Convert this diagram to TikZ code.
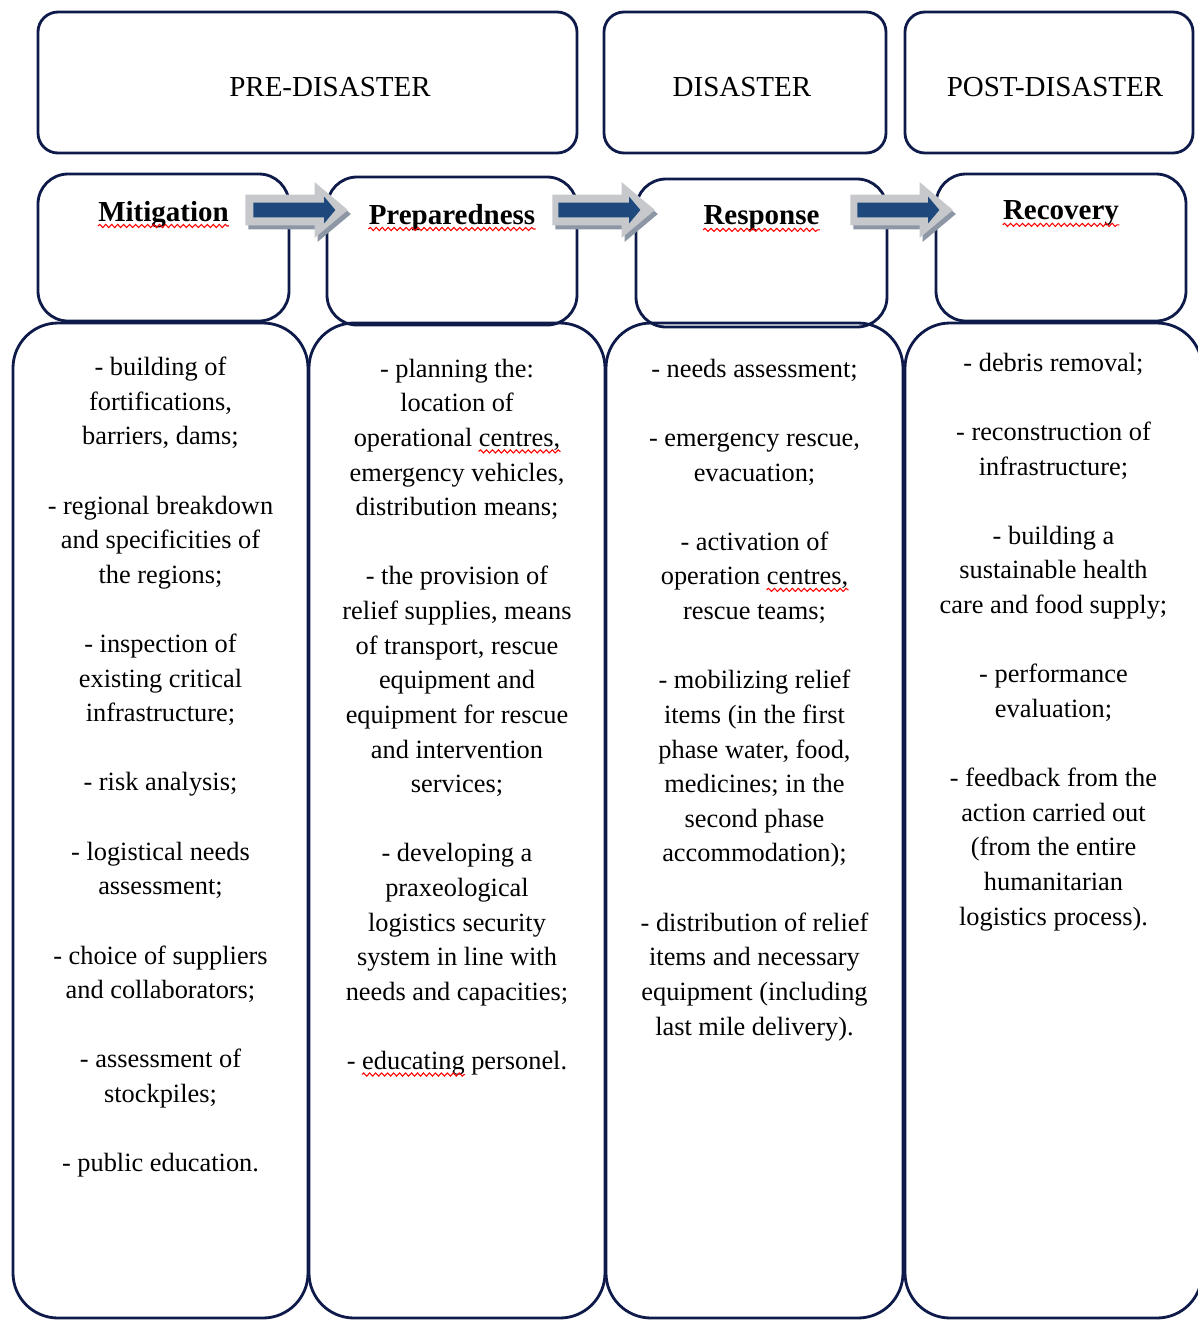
\documentclass[tikz,border=0pt]{standalone}
\usepackage{fontspec}
\setmainfont{Liberation Serif}
\usetikzlibrary{shapes.arrows,positioning,decorations.pathmorphing}

\definecolor{boxnavy}{RGB}{14,27,74}
\definecolor{arrowblue}{RGB}{31,73,125}
\definecolor{arrowgray}{RGB}{198,200,204}
\definecolor{shadegray}{RGB}{140,150,165}

\tikzset{
	phasebox/.style={draw=boxnavy, line width=1.6pt, rounded corners=0.4cm, inner sep=0pt},
	stagebox/.style={draw=boxnavy, line width=1.6pt, rounded corners=0.6cm, inner sep=0pt},
	listbox/.style={draw=boxnavy, line width=1.6pt, rounded corners=0.9cm, inner sep=0pt},
	phasetext/.style={font=\fontsize{16.5}{19}\selectfont, inner sep=0pt},
	stagetitle/.style={font=\bfseries\fontsize{16.5}{19}\selectfont, inner sep=0pt},
	listtext/.style={align=center, font=\fontsize{15}{19.7}\selectfont, inner sep=0pt, anchor=north},
	spellwave/.style={draw=red, line width=0.6pt, decorate, decoration={snake, amplitude=0.9pt, segment length=3.4pt}},
	arrowshadow/.style={single arrow, anchor=tail, fill=shadegray, minimum height=2.05cm, inner xsep=0pt, inner ysep=0.3cm, single arrow head extend=0.25cm, single arrow tip angle=80},
	arrowback/.style={single arrow, anchor=tail, fill=arrowgray, minimum height=2.05cm, inner xsep=0pt, inner ysep=0.3cm, single arrow head extend=0.25cm, single arrow tip angle=80},
	arrowfront/.style={single arrow, anchor=tail, fill=arrowblue, minimum height=1.64cm, inner xsep=0pt, inner ysep=0.14cm, single arrow head extend=0.12cm, single arrow tip angle=100}
}

% word with a spell-check wave under it
\newcommand{\spellmark}[1]{\tikz[baseline=(sw.base)]{\node[inner sep=0pt, anchor=base] (sw) {#1};
	\draw[spellwave, overlay] ([yshift=-2.8pt]sw.base west) -- ([yshift=-2.8pt]sw.base east);}}
\newcommand{\gapline}{\\[19.7pt]}

\begin{document}
\begin{tikzpicture}
				\useasboundingbox (0,0) rectangle (23.96,-26.4);
				
				% phases
				\node[phasebox, minimum width=10.78cm, minimum height=2.82cm] (pre) at (6.15,-1.65) {};
				\node[phasebox, minimum width=5.64cm, minimum height=2.82cm] (dis) at (14.9,-1.65) {};
				\node[phasebox, minimum width=5.76cm, minimum height=2.82cm] (post) at (20.98,-1.65) {};
				\node[phasetext] (pretxt) at (6.6,-1.74) {PRE-DISASTER};
				\node[phasetext] (distxt) at (14.84,-1.74) {DISASTER};
				\node[phasetext] (posttxt) at (21.1,-1.74) {POST-DISASTER};
				
				% lists
				\node[listbox, minimum width=5.9cm, minimum height=19.9cm] (mitlist) at (3.21,-16.41) {};
				\node[listbox, minimum width=5.92cm, minimum height=19.9cm] (preplist) at (9.14,-16.41) {};
				\node[listbox, minimum width=5.94cm, minimum height=19.9cm] (resplist) at (15.09,-16.41) {};
				\node[listbox, minimum width=5.94cm, minimum height=19.9cm] (recolist) at (21.07,-16.41) {};
				
				% stages
				\node[stagebox, minimum width=5.02cm, minimum height=2.94cm] (mit) at (3.27,-4.95) {};
				\node[stagebox, minimum width=5.0cm, minimum height=2.96cm] (prep) at (9.04,-5.02) {};
				\node[stagebox, minimum width=5.02cm, minimum height=2.96cm] (resp) at (15.23,-5.06) {};
				\node[stagebox, minimum width=5.0cm, minimum height=2.94cm] (reco) at (21.22,-4.95) {};
				\node[stagetitle, below=0.56cm of mit.north] (mittitle) {\spellmark{Mitigation}};
				\node[stagetitle, below=0.56cm of prep.north] (preptitle) {\spellmark{Preparedness}};
				\node[stagetitle, below=0.56cm of resp.north] (resptitle) {\spellmark{Response}};
				\node[stagetitle, below=0.56cm of reco.north] (recotitle) {\spellmark{Recovery}};
				
				\node[listtext, below=0.7cm of mitlist.north] (mittext) {
					- building of\\ fortifications,\\ barriers, dams;\gapline
					- regional breakdown\\ and specificities of\\ the regions;\gapline
					- inspection of\\ existing critical\\ infrastructure;\gapline
					- risk analysis;\gapline
					- logistical needs\\ assessment;\gapline
					- choice of suppliers\\ and collaborators;\gapline
					- assessment of\\ stockpiles;\gapline
					- public education.};
				\node[listtext, below=0.74cm of preplist.north] (preptext) {
					- planning the:\\ location of\\ operational \spellmark{centres,}\\ emergency vehicles,\\ distribution means;\gapline
					- the provision of\\ relief supplies, means\\ of transport, rescue\\ equipment and\\ equipment for rescue\\ and intervention\\ services;\gapline
					- developing a\\ praxeological\\ logistics security\\ system in line with\\ needs and capacities;\gapline
					- \spellmark{educating} personel.};
				\node[listtext, below=0.74cm of resplist.north] (resptext) {
					- needs assessment;\gapline
					- emergency rescue,\\ evacuation;\gapline
					- activation of\\ operation \spellmark{centres,}\\ rescue teams;\gapline
					- mobilizing relief\\ items (in the first\\ phase water, food,\\ medicines; in the\\ second phase\\ accommodation);\gapline
					- distribution of relief\\ items and necessary\\ equipment (including\\ last mile delivery).};
				\node[listtext, below=0.62cm of recolist.north] (recotext) {
					- debris removal;\gapline
					- reconstruction of\\ infrastructure;\gapline
					- building a\\ sustainable health\\ care and food supply;\gapline
					- performance\\ evaluation;\gapline
					- feedback from the\\ action carried out\\ (from the entire\\ humanitarian\\ logistics process).};
				
				% block arrows
				\node[arrowshadow] (arr1s) at (4.96,-4.28) {};
				\node[arrowback] (arr1b) at (4.9,-4.2) {};
				\node[arrowfront] (arr1f) at (5.06,-4.2) {};
				\node[arrowshadow] (arr2s) at (11.1,-4.28) {};
				\node[arrowback] (arr2b) at (11.04,-4.2) {};
				\node[arrowfront] (arr2f) at (11.16,-4.2) {};
				\node[arrowshadow] (arr3s) at (17.06,-4.28) {};
				\node[arrowback] (arr3b) at (17.0,-4.2) {};
				\node[arrowfront] (arr3f) at (17.14,-4.2) {};
\end{tikzpicture}
\end{document}
